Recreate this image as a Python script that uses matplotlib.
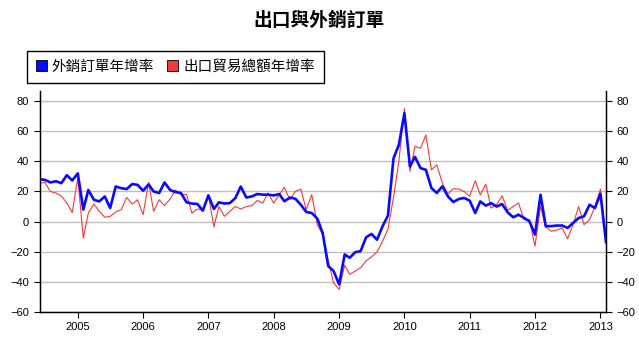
import matplotlib
matplotlib.use("Agg")
import matplotlib.pyplot as plt
from matplotlib.patches import Patch
import pandas as pd

plt.rcParams['font.family'] = ['Liberation Sans', 'DejaVu Sans']
CJK = ['Noto Sans CJK TC', 'DejaVu Sans']

# monthly, Jun 2004 .. Feb 2013
months = pd.date_range("2004-06-01", "2013-02-01", freq="MS")

orders = [28.2, 27.7, 26, 26.8, 25.5, 30.8, 27.3, 32, 8, 21, 14.5, 13.4, 16.7, 9, 23.3, 22.2, 21.6, 24.9, 24.4, 20.5, 24.7,
          20, 19, 26, 21, 19.6, 19, 12.8, 12, 11.7, 7.3, 17.4, 8.4, 12.8, 12, 12.3, 15.6, 23.3, 16, 16.7, 18.3,
          17.9, 17.9, 17.4, 18.3, 13.5, 16, 15.2, 11.2, 6.4, 5.7, 2, -7.5, -29.5, -32.8, -41.7, -21.8, -24, -20.3, -19.6, -10.4,
          -8.2, -12, -3, 4, 42, 51, 72, 36.6, 43, 35.5, 34.4, 22.3, 19, 23.4, 16.8, 13, 15, 15.7, 13.9, 5.7,
          13.4, 10.6, 12.3, 10, 11.7, 6.2, 2.9, 4.6, 2.4, 0.2, -8.6, 17.8, -3, -3, -2.6, -2.6, -4.2, -0.9, 2.4, 3.5, 11.2, 9, 18.5, -13.6]

exports = [25.5, 26, 20, 19, 17, 12.3, 6, 29, -11, 5.7, 11.7, 6.8, 2.9, 3.5, 6.4, 8, 16, 11.7, 14.5, 4.6, 26,
           6.8, 14.5, 10.6, 15, 21, 17.8, 18, 5.7, 8.4, 7.5, 17.8, -3.5, 10, 3.5, 6.8, 10, 8.4, 10, 10.6, 14,
           12.3, 19, 12.3, 17.9, 22.7, 14.5, 20, 21.6, 7.9, 17.9, -2, -8.6, -26, -40.6, -45, -28.9, -35, -32.8, -30.6, -26,
           -23.4, -20, -13, -5, 16, 40, 75, 33.3, 50, 48.7, 57.5, 34.4, 37.7, 25.6, 18.3, 21.8, 21.6, 20, 16.8, 27.1,
           17.8, 24.9, 9, 11.2, 17.2, 7.5, 10, 12.3, 1.3, 1.3, -16.3, 10, -3.5, -6.4, -5.7, -4.2, -11.4, -2, 10, -2, 1.3, 10, 21.6, -11.9]

years = [2005, 2006, 2007, 2008, 2009, 2010, 2011, 2012, 2013]
yticks = [-60, -40, -20, 0, 20, 40, 60, 80]

fig = plt.figure(figsize=(6.39, 3.47), dpi=100)
ax = fig.add_axes([39.5 / 639, 1 - 312 / 347, 566.5 / 639, 221 / 347])

ax.plot(months, exports, color='#f03c3c', lw=0.8, zorder=3)
ax.plot(months, orders, color='#0a0aff', lw=1.9, zorder=4)

ax.set_xlim(months[0], months[-1])
ax.set_ylim(-60, 86.7)
ax.set_yticks(yticks)
ax.set_xticks([pd.Timestamp(f"{y}-01-01") for y in years])
ax.set_xticklabels([str(y) for y in years])
ax.grid(axis='y', color='#c0c0c0', lw=1)
ax.set_axisbelow(True)
ax.tick_params(labelsize=8, length=4, color='black')
ax.spines['top'].set_visible(False)
for s in ['left', 'right', 'bottom']:
    ax.spines[s].set_linewidth(1)

ax2 = ax.twinx()
ax2.set_ylim(ax.get_ylim())
ax2.set_yticks(yticks)
ax2.tick_params(labelsize=8, length=4)
ax2.spines['top'].set_visible(False)

fig.text(0.5, 1 - 20 / 347, "出口與外銷訂單", ha='center', va='center',
         fontsize=13.5, fontweight='bold', family=CJK)

handles = [Patch(facecolor='#0a0aff', edgecolor='black', lw=0.6),
           Patch(facecolor='#f03c3c', edgecolor='black', lw=0.6)]
leg = fig.legend(handles, ["外銷訂單年增率", "出口貿易總額年增率"], ncol=2,
                 loc='upper left', bbox_to_anchor=(27 / 639, 1 - 51 / 347),
                 borderaxespad=0, fancybox=False, edgecolor='black',
                 framealpha=1, handlelength=0.75, handleheight=0.75,
                 handletextpad=0.35, columnspacing=0.9, borderpad=0.6,
                 prop={'family': CJK, 'size': 10.5})
leg.get_frame().set_linewidth(1)

fig.savefig("out.png", dpi=100)
